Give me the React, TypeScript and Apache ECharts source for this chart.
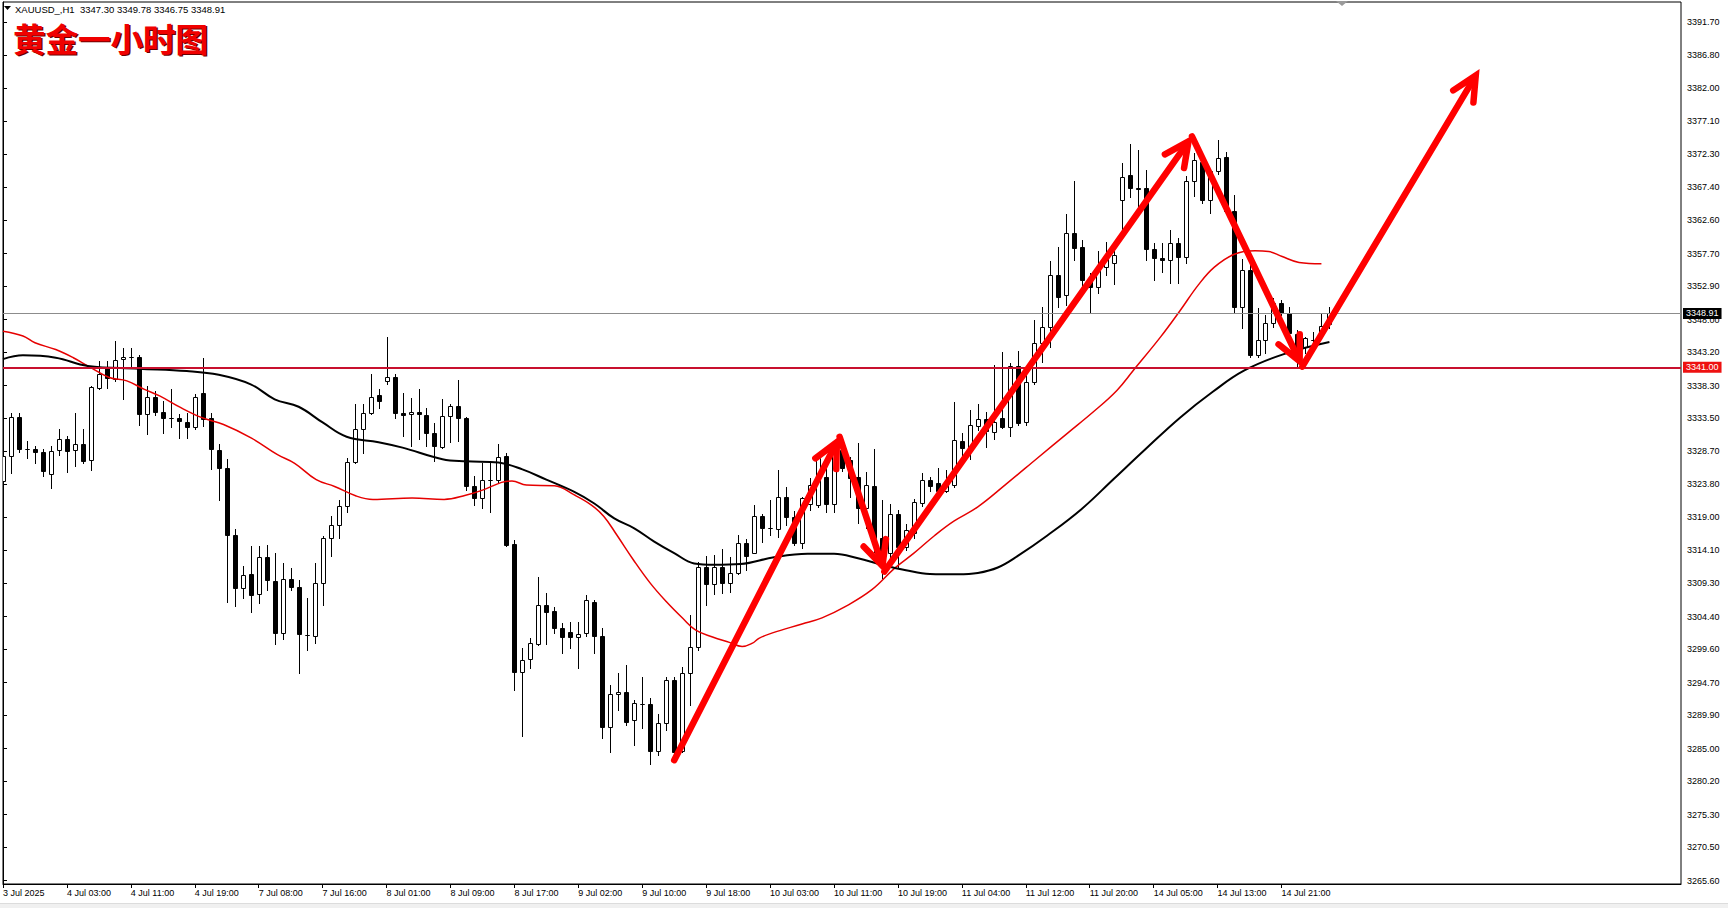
import React, { useEffect, useRef } from "react";
import * as echarts from "echarts";

const header = "XAUUSD_,H1  3347.30 3349.78 3346.75 3348.91";
const chartTitle = "黄金一小时图";

const xTickLabels = [
  "3 Jul 2025", "4 Jul 03:00", "4 Jul 11:00", "4 Jul 19:00", "7 Jul 08:00", "7 Jul 16:00",
  "8 Jul 01:00", "8 Jul 09:00", "8 Jul 17:00", "9 Jul 02:00", "9 Jul 10:00", "9 Jul 18:00",
  "10 Jul 03:00", "10 Jul 11:00", "10 Jul 19:00", "11 Jul 04:00", "11 Jul 12:00", "11 Jul 20:00",
  "14 Jul 05:00", "14 Jul 13:00", "14 Jul 21:00",
];
const barsPerLabel = 8;

const yTickValues = [
  3265.6, 3270.5, 3275.3, 3280.2, 3285.0, 3289.9, 3294.7, 3299.6, 3304.4, 3309.3, 3314.1,
  3319.0, 3323.8, 3328.7, 3333.5, 3338.3, 3343.2, 3348.0, 3352.9, 3357.7, 3362.6, 3367.4,
  3372.3, 3377.1, 3382.0, 3386.8, 3391.7,
];

// [open, high, low, close] per hourly bar
const candles = [
  [3324.27, 3328.7, 3323.04, 3327.95], [3328.04, 3334.32, 3325.49, 3333.73], [3333.73, 3334.32, 3328.53, 3328.93],
  [3329.02, 3330.15, 3327.7, 3329.0], [3329.02, 3329.42, 3326.87, 3328.58], [3328.58, 3328.93, 3325.0, 3325.74],
  [3325.39, 3329.42, 3323.29, 3328.68], [3328.78, 3331.87, 3328.19, 3330.49], [3330.4, 3330.89, 3325.59, 3328.68],
  [3328.78, 3334.32, 3326.47, 3329.76], [3329.76, 3331.97, 3326.87, 3327.21], [3327.36, 3338.24, 3325.98, 3338.1],
  [3338.0, 3341.92, 3337.75, 3339.96], [3340.94, 3341.92, 3338.0, 3339.47], [3339.32, 3344.86, 3338.98, 3342.07],
  [3342.26, 3343.88, 3336.28, 3342.56], [3342.56, 3343.88, 3340.94, 3342.5], [3342.56, 3342.75, 3332.46, 3334.17],
  [3334.17, 3338.24, 3331.23, 3336.67], [3336.67, 3337.51, 3333.93, 3334.42], [3334.47, 3336.04, 3331.38, 3333.58],
  [3333.58, 3337.75, 3332.26, 3333.6], [3333.58, 3334.07, 3330.64, 3333.09], [3332.99, 3334.32, 3330.64, 3332.26],
  [3332.26, 3337.02, 3331.97, 3336.67], [3337.26, 3342.41, 3332.36, 3333.34], [3333.58, 3334.32, 3326.13, 3328.93],
  [3328.78, 3329.66, 3321.57, 3326.23], [3326.23, 3327.55, 3306.47, 3316.42], [3316.42, 3317.26, 3305.88, 3308.58],
  [3308.58, 3311.76, 3307.11, 3310.54], [3310.69, 3314.72, 3305.05, 3307.6], [3307.74, 3314.81, 3306.37, 3313.14],
  [3313.14, 3314.95, 3308.23, 3309.7], [3309.56, 3313.72, 3300.39, 3301.96], [3301.96, 3312.25, 3301.07, 3309.9],
  [3309.9, 3311.52, 3308.33, 3308.72], [3308.72, 3309.8, 3296.07, 3301.86], [3301.71, 3307.11, 3299.5, 3301.75],
  [3301.56, 3312.25, 3300.49, 3309.31], [3309.31, 3316.18, 3306.12, 3315.94], [3315.94, 3319.13, 3313.24, 3317.89],
  [3317.89, 3321.57, 3315.94, 3320.59], [3320.59, 3327.7, 3319.71, 3327.06], [3327.06, 3335.55, 3326.96, 3331.87],
  [3331.87, 3335.55, 3328.44, 3334.32], [3334.32, 3339.96, 3334.07, 3336.67], [3336.87, 3337.85, 3335.06, 3336.04],
  [3338.98, 3345.5, 3338.49, 3339.62], [3339.62, 3339.96, 3333.58, 3334.32], [3334.32, 3337.16, 3330.89, 3333.98],
  [3334.07, 3336.53, 3329.51, 3334.47], [3334.47, 3337.75, 3330.4, 3334.17], [3333.98, 3335.06, 3329.42, 3331.38],
  [3331.38, 3332.75, 3327.21, 3329.42], [3329.32, 3336.28, 3329.17, 3333.83], [3333.83, 3335.55, 3330.0, 3335.3],
  [3335.3, 3339.08, 3330.15, 3333.58], [3333.58, 3333.68, 3323.04, 3323.53], [3323.53, 3325.0, 3320.83, 3321.82],
  [3321.82, 3326.96, 3320.34, 3324.41], [3324.51, 3326.96, 3319.71, 3324.5], [3324.51, 3329.66, 3324.02, 3327.85],
  [3327.95, 3328.44, 3314.72, 3314.95], [3315.1, 3315.69, 3293.62, 3296.32], [3296.32, 3299.75, 3286.9, 3298.03],
  [3298.13, 3301.2, 3296.81, 3300.49], [3300.39, 3310.19, 3300.24, 3306.12], [3306.12, 3307.84, 3300.39, 3305.0],
  [3305.21, 3305.75, 3302.03, 3302.67], [3302.67, 3303.4, 3299.0, 3301.35], [3302.08, 3303.65, 3299.73, 3301.35],
  [3301.35, 3303.65, 3296.79, 3301.79], [3301.93, 3307.56, 3301.54, 3306.78], [3306.58, 3306.83, 3299.0, 3301.59],
  [3301.54, 3302.67, 3286.51, 3288.13], [3288.13, 3294.35, 3284.56, 3292.98], [3292.98, 3296.06, 3290.68, 3293.37],
  [3293.37, 3297.28, 3288.47, 3288.96], [3289.21, 3292.14, 3285.54, 3291.65], [3291.55, 3295.57, 3287.98, 3291.5],
  [3291.55, 3292.39, 3282.75, 3284.7], [3284.7, 3290.09, 3284.07, 3288.82], [3288.72, 3295.47, 3287.74, 3295.08],
  [3295.08, 3295.57, 3284.31, 3284.56], [3284.65, 3297.04, 3284.56, 3296.06], [3296.06, 3304.63, 3291.41, 3299.88],
  [3299.88, 3312.46, 3299.49, 3311.63], [3311.63, 3313.29, 3306.09, 3309.18], [3309.18, 3313.44, 3307.71, 3311.63],
  [3311.63, 3314.27, 3307.81, 3309.28], [3309.28, 3313.19, 3307.95, 3310.84], [3310.84, 3316.37, 3310.65, 3315.15],
  [3315.15, 3315.74, 3311.23, 3313.29], [3313.78, 3320.78, 3313.68, 3319.21], [3319.16, 3319.46, 3315.39, 3317.35],
  [3317.35, 3321.51, 3316.37, 3317.4], [3317.2, 3325.92, 3316.13, 3321.9], [3321.9, 3323.37, 3317.84, 3319.06],
  [3318.97, 3319.94, 3314.9, 3315.15], [3315.25, 3322.0, 3314.41, 3321.76], [3320.9, 3324.7, 3320.1, 3323.7],
  [3320.78, 3328.12, 3320.53, 3327.63], [3324.94, 3326.9, 3319.8, 3320.92], [3320.92, 3329.34, 3319.8, 3328.27],
  [3328.85, 3330.57, 3325.82, 3326.16], [3327.39, 3327.88, 3322.0, 3324.69], [3324.84, 3329.83, 3318.08, 3320.29],
  [3320.29, 3325.67, 3317.35, 3323.71], [3323.57, 3328.95, 3313.92, 3315.88], [3315.88, 3321.51, 3310.01, 3312.21],
  [3313.68, 3320.93, 3311.72, 3319.46], [3319.46, 3320.04, 3311.72, 3314.66], [3314.66, 3317.99, 3314.17, 3317.11],
  [3316.62, 3321.61, 3315.88, 3321.27], [3321.12, 3325.52, 3320.63, 3324.45], [3324.45, 3324.94, 3322.88, 3323.57],
  [3324.06, 3326.16, 3322.73, 3322.88], [3322.88, 3325.9, 3322.7, 3323.8], [3323.71, 3335.95, 3323.47, 3330.32],
  [3330.22, 3331.3, 3327.87, 3329.09], [3328.85, 3334.72, 3327.6, 3332.52], [3332.37, 3335.56, 3331.79, 3333.35],
  [3333.35, 3334.4, 3329.34, 3331.69], [3331.54, 3341.33, 3330.5, 3333.01], [3333.5, 3343.29, 3332.03, 3332.28],
  [3332.28, 3341.67, 3330.91, 3341.23], [3341.23, 3343.44, 3332.52, 3332.86], [3333.01, 3340.11, 3332.52, 3338.89],
  [3338.89, 3347.94, 3338.5, 3344.51], [3344.51, 3349.8, 3341.82, 3346.96], [3346.96, 3356.6, 3344.0, 3354.55],
  [3354.55, 3358.71, 3349.8, 3351.37], [3351.61, 3363.46, 3350.14, 3360.67], [3360.67, 3368.35, 3356.75, 3358.47],
  [3358.61, 3359.69, 3352.84, 3353.82], [3353.8, 3354.8, 3349.0, 3352.8], [3352.84, 3358.07, 3351.86, 3355.77],
  [3355.77, 3359.44, 3354.5, 3357.24], [3356.26, 3359.2, 3353.18, 3357.49], [3365.56, 3370.95, 3361.16, 3368.99],
  [3369.23, 3373.79, 3365.95, 3367.28], [3367.28, 3372.9, 3364.58, 3367.2], [3367.28, 3369.97, 3356.75, 3358.32],
  [3358.32, 3359.3, 3353.81, 3356.99], [3357.0, 3359.3, 3355.04, 3356.75], [3356.75, 3361.16, 3353.42, 3359.3],
  [3359.2, 3359.93, 3353.42, 3357.14], [3357.14, 3369.09, 3356.36, 3368.4], [3368.4, 3372.42, 3366.15, 3371.44],
  [3371.19, 3372.42, 3365.07, 3365.56], [3365.56, 3369.97, 3363.6, 3369.87], [3369.87, 3374.37, 3369.38, 3371.68],
  [3371.83, 3372.66, 3363.51, 3364.0], [3364.0, 3366.3, 3349.17, 3349.9], [3349.9, 3356.85, 3346.72, 3355.28],
  [3355.28, 3356.02, 3342.46, 3342.8], [3342.8, 3349.65, 3342.46, 3345.0], [3345.0, 3348.68, 3343.05, 3347.45],
  [3347.45, 3351.12, 3346.96, 3350.39], [3350.48, 3350.88, 3348.68, 3348.92], [3348.92, 3349.9, 3345.0, 3345.98],
  [3345.9, 3346.5, 3341.1, 3344.0], [3344.03, 3345.49, 3343.05, 3345.25], [3345.0, 3346.23, 3343.6, 3345.0],
  [3345.98, 3348.92, 3345.49, 3347.06], [3347.3, 3349.78, 3346.75, 3348.91],
];

// moving averages: [bar index, price]
const maBlack = [
  [0, 3342.2], [2.5, 3342.75], [6.6, 3342.4], [10.6, 3341.2], [17, 3340.8], [23, 3340.45], [27, 3339.9],
  [31, 3338.5], [34, 3336.3], [37, 3335.2], [40, 3332.9], [43, 3330.8], [47, 3330.0], [50, 3329.2],
  [55, 3327.5], [58, 3327.2], [62, 3327.0], [65, 3326.0], [68, 3324.5], [71.5, 3322.7], [74, 3321.0],
  [76.5, 3318.8], [79, 3317.35], [81.5, 3315.4], [84, 3313.7], [86.5, 3312.2], [89, 3312.0], [92.3, 3312.1],
  [96.5, 3313.1], [100.7, 3313.6], [104, 3313.6], [107, 3312.95], [110, 3312.0], [113, 3311.2], [116, 3310.65],
  [119.5, 3310.6], [122, 3310.8], [124.5, 3311.6], [127, 3313.3], [130.7, 3316.3], [135, 3320.2], [139, 3324.6],
  [143, 3329.0], [147.3, 3333.6], [151.4, 3337.4], [155.3, 3340.5], [160.2, 3342.9], [166, 3344.7],
];
const maRed = [
  [0, 3346.3], [2.5, 3345.6], [4, 3344.6], [6.6, 3343.6], [8.8, 3342.4], [10.6, 3341.2], [13.3, 3339.5],
  [15.5, 3339.0], [17.7, 3337.75], [19.6, 3336.8], [22.2, 3335.1], [24.9, 3333.6], [27.6, 3332.6], [31.1, 3330.6],
  [34.3, 3328.2], [36.5, 3326.9], [39.2, 3324.5], [41.5, 3323.5], [44.2, 3322.1], [46.3, 3321.6], [51.2, 3321.8],
  [55.2, 3321.6], [57.9, 3322.2], [60.1, 3323.0], [62.4, 3324.1], [63.7, 3324.3], [65.5, 3323.7], [69, 3323.6],
  [71.5, 3322.25], [73.6, 3320.8], [75.2, 3319.1], [76.8, 3316.4], [78.9, 3312.7], [81, 3309.3], [83, 3306.6],
  [85.1, 3304.1], [86.7, 3302.4], [88.8, 3301.4], [90.9, 3300.6], [92.5, 3300.0], [93.8, 3300.5], [94.6, 3301.2],
  [96.3, 3302.0], [100, 3303.3], [102.5, 3304.2], [105.4, 3305.85], [108.7, 3308.3], [111.6, 3311.5],
  [114, 3313.7], [116.6, 3316.3], [119, 3318.4], [122, 3320.5], [125.5, 3323.8], [129.4, 3327.6],
  [133.2, 3331.3], [136.5, 3334.5], [139.4, 3337.6], [141.5, 3340.6], [144.9, 3345.5], [147.3, 3349.3],
  [149.6, 3353.1], [151.6, 3355.7], [154.1, 3357.6], [156.7, 3358.1], [158.4, 3358.0], [160, 3357.3],
  [162.2, 3356.4], [165, 3356.2],
];

// hand-drawn arrow path: [bar index, price]
const arrowPoints = [
  [84.0, 3283.3], [104.7, 3330.8], [110.3, 3311.0], [148.8, 3374.9], [162.6, 3341.1], [184.7, 3384.6],
];

const supportLevel = 3341.0;
const lastPrice = 3348.91;

const FONT = "Liberation Sans, Arial, sans-serif";

export default function App() {
  const ref = useRef<HTMLDivElement>(null);

  useEffect(() => {
    document.body.style.margin = "0";
    if (!ref.current) return;
    const chart = echarts.init(ref.current, null, { renderer: "svg" });

    const xTickValues = xTickLabels.map((_, k) => k * barsPerLabel);
    const candleData = candles.map((c, i) => [i, c[0], c[1], c[2], c[3]]);
    const arrowData = arrowPoints.slice(1).map((p, k) => [arrowPoints[k][0], arrowPoints[k][1], p[0], p[1]]);

    const option: any = {
      animation: false,
      backgroundColor: "#ffffff",
      grid: {
        left: 1,
        right: 47,
        top: 2,
        bottom: 24,
        show: true,
        borderColor: "#000",
        borderWidth: 1,
        backgroundColor: "#fff",
      },
      xAxis: {
        type: "value",
        min: 0,
        max: 210,
        splitLine: { show: false },
        axisLine: { show: true, lineStyle: { color: "#000", width: 1 } },
        axisTick: {
          show: true,
          customValues: xTickValues,
          length: 4,
          lineStyle: { color: "#000" },
        },
        axisLabel: {
          customValues: xTickValues,
          formatter: (v: number) => xTickLabels[Math.round(v / barsPerLabel)] ?? "",
          align: "left",
          margin: 4,
          fontSize: 9,
          color: "#000",
          fontFamily: FONT,
        },
      },
      yAxis: {
        type: "value",
        position: "right",
        min: 3265.12,
        max: 3394.64,
        scale: true,
        splitLine: { show: false },
        axisLine: { show: true, lineStyle: { color: "#000", width: 1 } },
        axisTick: {
          show: true,
          customValues: yTickValues,
          length: 4,
          lineStyle: { color: "#000" },
        },
        axisLabel: {
          customValues: yTickValues,
          formatter: (v: number) => v.toFixed(2),
          margin: 6,
          fontSize: 9,
          color: "#000",
          fontFamily: FONT,
        },
      },
      series: [
        {
          type: "custom",
          name: "candles",
          clip: true,
          z: 2,
          data: candleData,
          encode: { x: 0, y: [1, 2, 3, 4] },
          renderItem: (params: any, api: any) => {
            const i = api.value(0);
            const o = api.value(1);
            const h = api.value(2);
            const l = api.value(3);
            const c = api.value(4);
            const pO = api.coord([i, o]);
            const pC = api.coord([i, c]);
            const pH = api.coord([i, h]);
            const pL = api.coord([i, l]);
            const x = Math.round(pO[0]) + 0.5;
            const top = Math.round(Math.min(pO[1], pC[1])) + 0.5;
            const bot = Math.round(Math.max(pO[1], pC[1])) + 0.5;
            const bull = c >= o;
            return {
              type: "group",
              children: [
                {
                  type: "line",
                  shape: { x1: x, y1: Math.round(pH[1]), x2: x, y2: Math.round(pL[1]) + 1 },
                  style: { stroke: "#000", lineWidth: 1 },
                },
                {
                  type: "rect",
                  shape: { x: x - 2, y: top, width: 4, height: Math.max(bot - top, 0) },
                  style: { fill: bull ? "#fff" : "#000", stroke: "#000", lineWidth: 1 },
                },
              ],
            };
          },
        },
        {
          type: "line",
          name: "MA red",
          data: maRed,
          smooth: 0.4,
          showSymbol: false,
          z: 3,
          lineStyle: { color: "#e60000", width: 1.5 },
        },
        {
          type: "line",
          name: "MA black",
          data: maBlack,
          smooth: 0.4,
          showSymbol: false,
          z: 3,
          lineStyle: { color: "#000", width: 2 },
          markLine: {
            silent: true,
            symbol: "none",
            animation: false,
            data: [
              {
                yAxis: lastPrice,
                lineStyle: { color: "#8c8c8c", width: 1, type: "solid" },
                label: {
                  show: true,
                  position: "end",
                  formatter: lastPrice.toFixed(2),
                  backgroundColor: "#000",
                  color: "#fff",
                  fontSize: 9,
                  fontFamily: FONT,
                  padding: [1, 3, 1, 3],
                  distance: 2,
                },
              },
              {
                yAxis: supportLevel,
                lineStyle: { color: "#c8102e", width: 2, type: "solid" },
                label: {
                  show: true,
                  position: "end",
                  formatter: supportLevel.toFixed(2),
                  backgroundColor: "#ee1111",
                  color: "#fff",
                  fontSize: 9,
                  fontFamily: FONT,
                  padding: [1, 3, 1, 3],
                  distance: 2,
                },
              },
            ],
          },
        },
        {
          type: "custom",
          name: "arrows",
          clip: false,
          z: 10,
          data: arrowData,
          encode: { x: [0, 2], y: [1, 3] },
          renderItem: (params: any, api: any) => {
            const p1 = api.coord([api.value(0), api.value(1)]);
            const pEnd = api.coord([api.value(2), api.value(3)]);
            const dx = pEnd[0] - p1[0];
            const dy = pEnd[1] - p1[1];
            const len = Math.hypot(dx, dy) || 1;
            const ux = dx / len;
            const uy = dy / len;
            // pull the drawn tip back so the mitred point ends at the target
            const p2 = [pEnd[0] - ux * 6, pEnd[1] - uy * 6];
            const headLen = 27;
            const ang = 0.45;
            const arm = (a: number) => {
              const rx = ux * Math.cos(a) - uy * Math.sin(a);
              const ry = ux * Math.sin(a) + uy * Math.cos(a);
              return [p2[0] - rx * headLen, p2[1] - ry * headLen];
            };
            const red = "#ff0000";
            return {
              type: "group",
              children: [
                {
                  type: "line",
                  shape: { x1: p1[0], y1: p1[1], x2: p2[0] - ux * 3, y2: p2[1] - uy * 3 },
                  style: { stroke: red, lineWidth: 6.5, lineCap: "round" },
                },
                {
                  type: "polyline",
                  shape: { points: [arm(ang), [p2[0], p2[1]], arm(-ang)] },
                  style: { stroke: red, fill: null, lineWidth: 6.5, lineCap: "round", lineJoin: "miter", miterLimit: 10 },
                },
              ],
            };
          },
        },
      ],
      graphic: [
        { type: "rect", shape: { x: 0, y: 903, width: 1728, height: 5 }, style: { fill: "#f0f0f0" }, silent: true },
        { type: "line", shape: { x1: 0, y1: 903.5, x2: 1728, y2: 903.5 }, style: { stroke: "#dcdcdc", lineWidth: 1 }, silent: true },
        { type: "polygon", shape: { points: [[4, 6], [11, 6], [7.5, 10]] }, style: { fill: "#000" }, silent: true },
        {
          type: "text",
          x: 15,
          y: 9,
          style: { text: header, fill: "#000", font: `9.5px ${FONT}`, verticalAlign: "middle" },
          silent: true,
        },
        {
          type: "text",
          x: 14.5,
          y: 38.5,
          style: {
            text: chartTitle,
            fill: "#6a0000",
            font: `bold 32.5px "Noto Sans CJK SC", sans-serif`,
            verticalAlign: "middle",
          },
          silent: true,
        },
        {
          type: "text",
          x: 13,
          y: 37,
          style: {
            text: chartTitle,
            fill: "#f00000",
            font: `bold 32.5px "Noto Sans CJK SC", sans-serif`,
            verticalAlign: "middle",
          },
          silent: true,
        },
        { type: "polygon", shape: { points: [[1336, 1], [1348, 1], [1342, 6]] }, style: { fill: "#9a9a9a" }, silent: true },
      ],
    };

    chart.setOption(option);
    return () => chart.dispose();
  }, []);

  return <div ref={ref} style={{ width: 1728, height: 908 }} />;
}
